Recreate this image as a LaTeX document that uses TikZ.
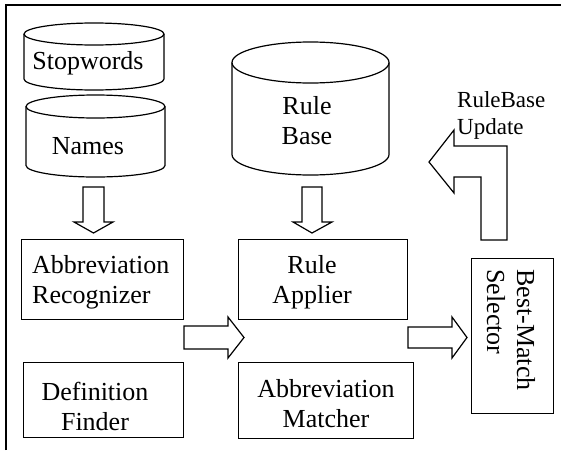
\documentclass[tikz,border=0pt]{standalone}
\usepackage{fontspec}
\setmainfont{Liberation Serif}
\begin{document}
\begin{tikzpicture}[x=1pt,y=1pt,line join=miter,
  box/.style={draw,line width=1.2pt,inner sep=0pt,anchor=north west},
  txt/.style={inner sep=0pt,font=\fontsize{26}{30}\selectfont},
  blockarrow/.style={draw,line width=1.2pt,fill=white},
  cyl/.style={draw,line width=1.2pt,fill=white}]
\useasboundingbox (0,0) rectangle (561,-450);
% frame
\draw[line width=1.8pt] (6,-450) -- (6,-5) -- (561,-5);
% Stopwords cylinder
\draw[cyl] (24,-34) -- (24,-79) arc[start angle=180,end angle=360,x radius=70,y radius=11] -- (164,-34);
\draw[line width=1.2pt] (94,-34) ellipse[x radius=70,y radius=11];
\node[txt] (stop) at (88,-63) {Stopwords};
% Names cylinder
\draw[cyl] (26,-106.5) -- (26,-165.5) arc[start angle=180,end angle=360,x radius=69.5,y radius=11.5] -- (165,-106.5);
\draw[line width=1.2pt] (95.5,-106.5) ellipse[x radius=69.5,y radius=11.5];
\node[txt] (names) at (88,-146) {Names};
% Rule Base cylinder
\draw[cyl] (232,-62.5) -- (232,-154.5) arc[start angle=180,end angle=360,x radius=78.5,y radius=20.5] -- (389,-62.5);
\draw[line width=1.2pt] (310.5,-62.5) ellipse[x radius=78.5,y radius=20.5];
\node[txt,align=center] (rulebase) at (307,-121) {Rule\\Base};
% boxes
\node[box,minimum width=162pt,minimum height=80pt] (recbox) at (21,-239) {};
\node[txt,align=left,anchor=west] (rec) at (32,-282) {Abbreviation\\Recognizer};
\node[box,minimum width=160pt,minimum height=75pt] (defbox) at (23,-362) {};
\node[txt,align=center] (def) at (95,-406) {Definition\\Finder};
\node[box,minimum width=169pt,minimum height=80pt] (appbox) at (238,-239) {};
\node[txt,align=center] (app) at (312,-282) {Rule\\Applier};
\node[box,minimum width=175pt,minimum height=76pt] (matbox) at (238,-362) {};
\node[txt,align=center] (mat) at (326,-404) {Abbreviation\\Matcher};
\node[box,minimum width=82pt,minimum height=155pt] (selbox) at (471,-258) {};
\node[txt,align=left,rotate=-90] (sel) at (511,-330) {Best-Match\\Selector};
% block arrows
\draw[blockarrow] (83,-187) -- (83,-222) -- (74,-222) -- (93.5,-233) -- (113,-222) -- (104,-222) -- (104,-187) -- cycle;
\draw[blockarrow] (302,-187) -- (302,-222) -- (293,-222) -- (312,-233) -- (332,-222) -- (322,-222) -- (322,-187) -- cycle;
\draw[blockarrow] (184,-326) -- (228,-326) -- (228,-317) -- (244,-337.5) -- (228,-358) -- (228,-349) -- (184,-349) -- cycle;
\draw[blockarrow] (408,-327) -- (452,-327) -- (452,-317) -- (467,-337.5) -- (452,-358) -- (452,-348) -- (408,-348) -- cycle;
\draw[blockarrow] (481,-240) -- (481,-177) -- (454,-177) -- (454,-193) -- (429,-162) -- (454,-130) -- (454,-146) -- (507,-146) -- (507,-240) -- cycle;
\node[inner sep=0pt,font=\fontsize{23}{27}\selectfont,align=left,anchor=west] (upd) at (457,-115) {RuleBase\\Update};
\end{tikzpicture}
\end{document}
